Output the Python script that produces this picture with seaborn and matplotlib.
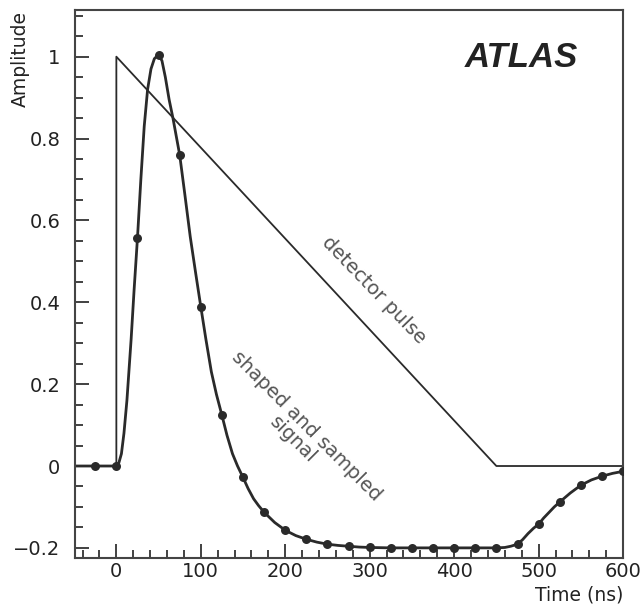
import numpy as np
import pandas as pd
import matplotlib
matplotlib.use("Agg")
import matplotlib.pyplot as plt
from matplotlib.ticker import MultipleLocator
import seaborn as sns

# 数据：探测器脉冲 (三角形) 与成形后采样信号
pulse_t = [-49, 0, 0, 450, 600]
pulse_amp = [0, 0, 1, 0, 0]

curve_t = [-49, -25, 0, 3, 6, 9, 12.5, 17.5, 21, 25, 29, 33, 37, 41, 45, 50,
           54, 58, 62.5, 67, 71, 75, 81, 87.5, 94, 100, 106, 112.5, 118.5, 125,
           131, 137.5, 143.5, 150, 156, 162.5, 168.5, 175, 187.5, 200, 212.5,
           225, 237.5, 250, 262.5, 275, 287.5, 300, 325, 350, 375, 400, 425,
           450, 460, 467, 475, 481, 487.5, 494, 500, 506, 512.5, 518.5, 525,
           537.5, 550, 562.5, 575, 587.5, 600]
curve_amp = [0, 0, 0, 0.008, 0.03, 0.08, 0.16, 0.31, 0.43, 0.557, 0.70, 0.83,
             0.92, 0.97, 0.995, 1.005, 0.99, 0.95, 0.895, 0.85, 0.805, 0.76,
             0.665, 0.56, 0.47, 0.389, 0.31, 0.23, 0.175, 0.124, 0.075, 0.03,
             0.0, -0.028, -0.055, -0.08, -0.097, -0.113, -0.138, -0.157, -0.17,
             -0.179, -0.186, -0.191, -0.194, -0.196, -0.198, -0.199, -0.2, -0.2,
             -0.2, -0.2, -0.2, -0.2, -0.199, -0.196, -0.191, -0.18, -0.165,
             -0.152, -0.142, -0.127, -0.113, -0.1, -0.088, -0.066, -0.047,
             -0.034, -0.025, -0.018, -0.013]

sample_t = [-25, 0, 25, 50, 75, 100, 125, 150, 175, 200, 225, 250, 275, 300,
            325, 350, 375, 400, 425, 450, 475, 500, 525, 550, 575, 600]
sample_amp = [0, 0, 0.557, 1.005, 0.76, 0.389, 0.124, -0.028, -0.113, -0.157,
              -0.179, -0.191, -0.196, -0.199, -0.2, -0.2, -0.2, -0.2, -0.2, -0.2,
              -0.191, -0.142, -0.088, -0.047, -0.025, -0.013]

x_ticks = [0, 100, 200, 300, 400, 500, 600]
x_tick_labels = ["0", "100", "200", "300", "400", "500", "600"]
y_ticks = [-0.2, 0, 0.2, 0.4, 0.6, 0.8, 1]
y_tick_labels = ["\u22120.2", "0", "0.2", "0.4", "0.6", "0.8", "1"]

sns.set_style("ticks")
plt.rcParams['font.family'] = ['DejaVu Sans']

dark = "#2a2a2a"
fig = plt.figure(figsize=(6.43, 6.06), dpi=100)
ax = fig.add_axes([0.1166, 0.0797, 0.969 - 0.1166, 0.9835 - 0.0797])

sns.lineplot(x=pulse_t, y=pulse_amp, ax=ax, color=dark, linewidth=1.3,
             estimator=None, sort=False)
sns.lineplot(x=curve_t, y=curve_amp, ax=ax, color=dark, linewidth=2.0,
             estimator=None, sort=False)
sns.scatterplot(x=sample_t, y=sample_amp, ax=ax, color=dark, s=42,
                edgecolor=dark, linewidth=0, zorder=3)

ax.set_xlim(-49, 600)
ax.set_ylim(-0.224, 1.114)
ax.set_xticks(x_ticks)
ax.set_xticklabels(x_tick_labels)
ax.set_yticks(y_ticks)
ax.set_yticklabels(y_tick_labels)
ax.xaxis.set_minor_locator(MultipleLocator(20))
ax.yaxis.set_minor_locator(MultipleLocator(0.05))

ax.tick_params(which="both", direction="in", colors="#333333", width=1.3,
               top=False, right=False)
ax.tick_params(which="major", length=10)
ax.tick_params(which="minor", length=6)
ax.tick_params(axis="x", which="major", labelsize=14, pad=3, labelcolor="#222222")
ax.tick_params(axis="y", which="major", labelsize=14, pad=10.5, labelcolor="#222222")

for sp in ax.spines.values():
    sp.set_visible(True)
    sp.set_color("#444444")
    sp.set_linewidth(1.5)

ax.set_xlabel("Time (ns)", fontsize=13.5, color="#222222", loc="right")
ax.xaxis.set_label_coords(1.0, -0.05)
ax.set_ylabel("Amplitude", fontsize=13.5, color="#222222", loc="top")
ax.yaxis.set_label_coords(-0.083, 0.998)

ax.text(0.814, 0.913, "ATLAS", transform=ax.transAxes, ha="center", va="center",
        fontsize=25, fontweight="bold", fontstyle="italic",
        family=["Liberation Sans", "DejaVu Sans"], color="#222222")
ax.text(304.6, 0.43, "detector pulse", ha="center", va="center", rotation=-46,
        rotation_mode="anchor", fontsize=14, color="#555555")
ax.text(217, 0.082, "shaped and sampled\nsignal", ha="center", va="center",
        multialignment="center", rotation=-45, rotation_mode="anchor",
        fontsize=14, color="#555555", linespacing=1.0)

fig.savefig("out.png", dpi=100)
